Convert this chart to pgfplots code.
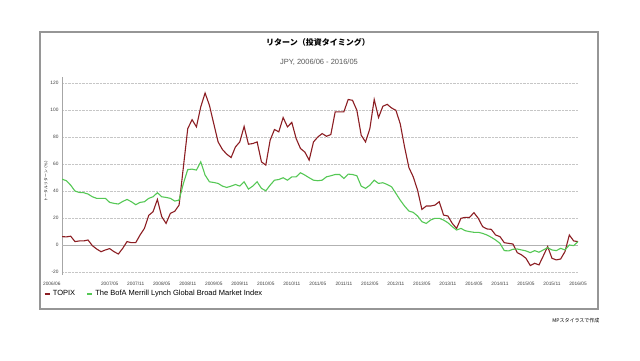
\documentclass[border=0pt]{standalone}
\usepackage{fontspec}
\setmainfont{Liberation Sans}
\newfontfamily\cjk{Noto Sans CJK JP}
\usepackage{pgfplots}
\pgfplotsset{compat=1.18}
\definecolor{topix}{RGB}{140,30,35}
\definecolor{bofa}{RGB}{85,200,85}
\definecolor{framegray}{RGB}{150,150,150}
\pgfplotstableread{
m v
0 6.2
1 6
2 6.5
3 2.5
4 3
5 3
6 3.7
7 -0.5
8 -3
9 -5
10 -3.7
11 -2.7
12 -5
13 -6.7
14 -2.5
15 2.5
16 1.7
17 1.7
18 7.4
19 12.3
20 22
21 24.7
22 33.8
23 21
24 16
25 23.5
26 25
27 29.6
28 58
29 86.4
30 93
31 87.7
32 102.5
33 112.8
34 103.7
35 90
36 76.5
37 70.9
38 67.4
39 64.9
40 72.8
41 76.5
42 88
43 74.8
44 75.3
45 76.5
46 61.7
47 59.3
48 77.8
49 85.7
50 84
51 94.6
52 87.7
53 91
54 79
55 71.6
56 69
57 63
58 76.5
59 80.2
60 82.7
61 80.7
62 82
63 98.8
64 98.8
65 98.8
66 108
67 107.4
68 100
69 81.5
70 76.5
71 86.4
72 108
73 94.6
74 103
75 104.4
76 101.7
77 100
78 90
79 72.8
80 57.5
81 50.6
82 40.7
83 26.4
84 28.9
85 28.9
86 29.6
87 32.1
88 22.2
89 21.5
90 16
91 12.3
92 19.8
93 20.5
94 20.5
95 24
96 19.8
97 13.6
98 11.9
99 11.6
100 7.4
101 6.2
102 1.7
103 1.2
104 0.7
105 -5.7
106 -7.4
107 -9.9
108 -15.3
109 -13.6
110 -14.8
111 -8.1
112 -1.2
113 -9.9
114 -11.1
115 -10.4
116 -4.9
117 7.4
118 3
119 2.5
}\topix
\pgfplotstableread{
m v
0 48.9
1 47.7
2 44.4
3 40
4 39
5 38.8
6 37.8
7 35.8
8 34.6
9 34.6
10 34.6
11 31.6
12 30.9
13 30.4
14 32.3
15 33.8
16 32.1
17 29.9
18 31.6
19 32.1
20 34.6
21 35.8
22 38.8
23 35.8
24 35.3
25 34.6
26 32.6
27 33.3
28 45.7
29 56
30 56.3
31 55.6
32 61.7
33 51.9
34 46.9
35 46.4
36 45.7
37 43.7
38 42.7
39 43.7
40 44.9
41 43.7
42 46.9
43 41.5
44 43.7
45 46.9
46 42
47 40.2
48 44.4
49 48.1
50 48.6
51 49.9
52 48.1
53 50.6
54 50.6
55 53.6
56 51.9
57 49.9
58 48.1
59 47.7
60 48.1
61 50.6
62 51.4
63 52.3
64 52.3
65 49.4
66 52.6
67 52.3
68 51.4
69 43.7
70 42
71 44.4
72 48.1
73 45.7
74 46.2
75 44.9
76 43.2
77 38.3
78 33.3
79 28.9
80 25.2
81 24.2
82 21.5
83 17.3
84 16
85 18.5
86 19.8
87 19.8
88 18.5
89 16.5
90 13.6
91 11.1
92 12.3
93 10.6
94 9.9
95 9.4
96 9.4
97 8.6
98 7.4
99 5.7
100 3.7
101 1.2
102 -4.2
103 -4.4
104 -3.2
105 -3
106 -3.7
107 -4.4
108 -5.7
109 -4.2
110 -5.4
111 -3.7
112 -2
113 -3.7
114 -4.2
115 -2.5
116 -3.7
117 0
118 -0.5
119 2.5
}\bofa
\begin{document}
\begin{tikzpicture}[x=1pt,y=1pt]
\useasboundingbox (0,0) rectangle (640,360);
\fill[white] (0,0) rectangle (640,360);
\draw[framegray, line width=1.4pt] (40,51) rectangle (598,328);
\node[font=\cjk\fontsize{8}{9}\selectfont\bfseries] at (318,318) {リターン（投資タイミング）};
\node[font=\fontsize{7.5}{9}\selectfont, text=black!65] at (319,298) {JPY, 2006/06 - 2016/05};
\node[rotate=90, font=\cjk\fontsize{3.8}{4}\selectfont] at (46,180) {トータル リターン（\%）};
\node[font=\cjk\fontsize{5}{6}\selectfont, anchor=east] at (603,39) {MPスタイラスで作成};
\begin{axis}[at={(62pt,85.4pt)}, anchor=south west, scale only axis,
  width=516pt, height=198pt,
  xmin=0, xmax=119, ymin=-22, ymax=125,
  axis x line*=bottom, axis y line*=left,
  x axis line style={draw=none},
  y axis line style={draw=gray!70, line width=0.6pt},
  xtick={11,17,...,119},
  xticklabels={2007/05,2007/11,2008/05,2008/11,2009/05,2009/11,2010/05,2010/11,2011/05,2011/11,2012/05,2012/11,2013/05,2013/11,2014/05,2014/11,2015/05,2015/11,2016/05},
  extra x ticks={0}, extra x tick labels={2006/06},
  extra x tick style={xticklabel style={anchor=north east, xshift=2pt}},
  ytick={-20,20,40,60,80,100,120},
  extra y ticks={0}, extra y tick labels={0},
  extra y tick style={grid style={solid, gray!60, line width=0.6pt}},
  ymajorgrids,
  grid style={densely dotted, gray!45, line width=0.5pt},
  xtick style={draw=none}, ytick style={draw=none},
  tick label style={font=\fontsize{4.8}{5}\selectfont, text=black!75},
  xticklabel style={yshift=-3.5pt},
  /pgf/number format/assume math mode=true,
  legend columns=2,
  legend style={at={(-0.036,-0.098)}, anchor=west, draw=none, fill=none,
    inner sep=0pt, font=\fontsize{7.5}{8}\selectfont,
    /tikz/every even column/.style={column sep=9pt}},
  legend image code/.code={\draw[#1, line width=2.2pt] (0pt,0pt) -- (5pt,0pt);},
]
\addplot[topix, line width=1.1pt] table[x=m, y=v] {\topix};
\addlegendentry{TOPIX}
\addplot[bofa, line width=1.1pt] table[x=m, y=v] {\bofa};
\addlegendentry{The BofA Merrill Lynch Global Broad Market Index}
\end{axis}
\end{tikzpicture}
\end{document}
